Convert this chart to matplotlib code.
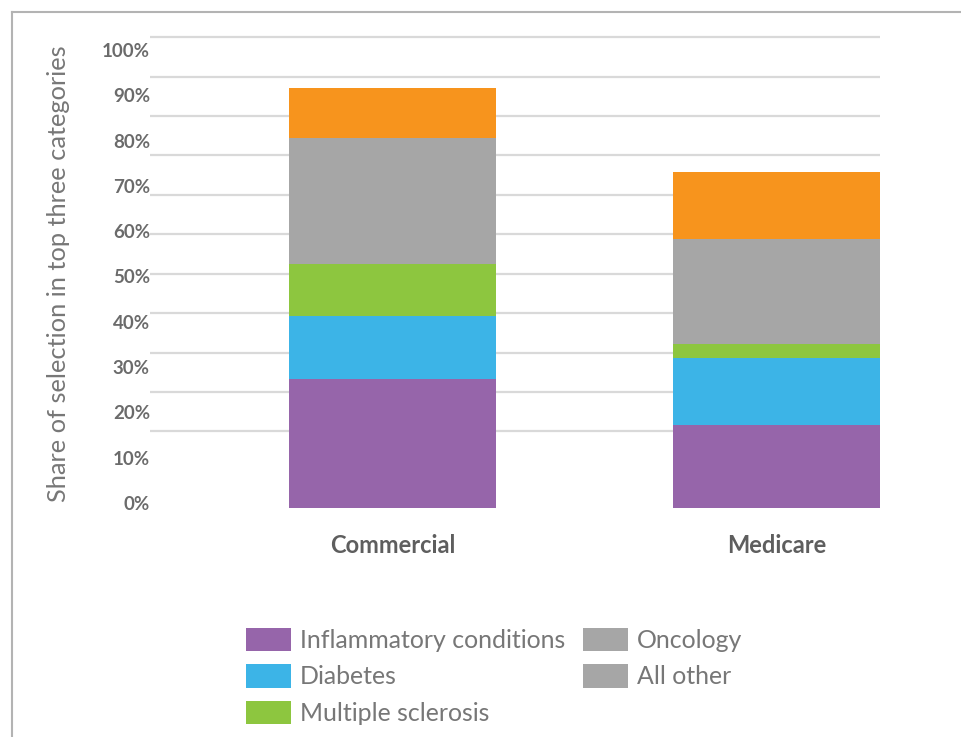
import matplotlib
matplotlib.use("Agg")
import matplotlib.pyplot as plt
from matplotlib.patches import Patch
from matplotlib.lines import Line2D
from matplotlib.transforms import ScaledTranslation

# Data (share of selection, %)
payers = ["Commercial", "Medicare"]
categories = ["Inflammatory conditions", "Diabetes", "Multiple sclerosis", "Oncology", "All other"]
inflammatory = [28.5, 18.3]
diabetes = [13.9, 14.8]
ms = [11.5, 3.1]
oncology = [27.8, 23.2]
all_other = [11.1, 14.8]
yticks = [0, 10, 20, 30, 40, 50, 60, 70, 80, 90, 100]
# light rules drawn in the background of the original graphic
grid_levels = [17.0, 25.6, 34.2, 43.0, 51.7, 60.5, 69.1, 77.9, 86.5, 95.1, 104.0]

colors = ["#9665aa", "#3cb4e7", "#8dc63f", "#a6a6a6", "#f7941d"]
legend_colors = ["#9665aa", "#3cb4e7", "#8dc63f", "#a6a6a6", "#a6a6a6"]

plt.rcParams['font.family'] = ['Lato', 'DejaVu Sans']

fig = plt.figure(figsize=(9.61, 7.37), dpi=100)
ax = fig.add_axes([0.156, 0.3053, 0.7596, 0.654])

x = range(len(payers))
bottom = [0, 0]
for vals, c in zip([inflammatory, diabetes, ms, oncology, all_other], colors):
    ax.bar(x, vals, width=0.54, bottom=bottom, color=c, zorder=3)
    bottom = [b + v for b, v in zip(bottom, vals)]

for g in grid_levels:
    ax.axhline(g, color="#d9d9d9", lw=1.6, zorder=1)

ax.set_xlim(-0.632, 1.27)
ax.set_ylim(-0.9, 105.5)
ax.set_yticks(yticks)
ax.set_yticklabels([f"{t}%" for t in yticks], fontsize=13.5, fontweight="bold", color="#6b6b6b")
ax.set_xticks(list(x))
ax.set_xticklabels(payers, fontsize=17, fontweight="bold", color="#5e5e5e")
ax.tick_params(axis="y", length=0, pad=0)
ax.tick_params(axis="x", length=0, pad=16)
off = ScaledTranslation(0, 5 / 100, fig.dpi_scale_trans)
for lab in ax.get_yticklabels():
    lab.set_transform(lab.get_transform() + off)
for s in ax.spines.values():
    s.set_visible(False)

ax.set_ylabel("Share of selection in top three categories", fontsize=18.3, color="#777777", va="center")
ax.yaxis.set_label_coords(-0.125, 0.494)

handles = [Patch(facecolor=c, edgecolor="none") for c in legend_colors]
fig.legend(handles, categories, loc="upper left", bbox_to_anchor=(246 / 961, 1 - 628 / 737),
           ncol=2, frameon=False, fontsize=17.9, labelcolor="#777777",
           handlelength=1.81, handleheight=1.05, handletextpad=0.36,
           labelspacing=0.5, columnspacing=0.7, borderpad=0, borderaxespad=0)

# outer frame (cropped at right and bottom)
fig.add_artist(Line2D([12 / 961, 12 / 961], [0, 1 - 12 / 737], color="#b3b3b3", lw=1.5))
fig.add_artist(Line2D([12 / 961, 1], [1 - 12 / 737, 1 - 12 / 737], color="#b3b3b3", lw=1.5))

fig.savefig("out.png", dpi=100)
